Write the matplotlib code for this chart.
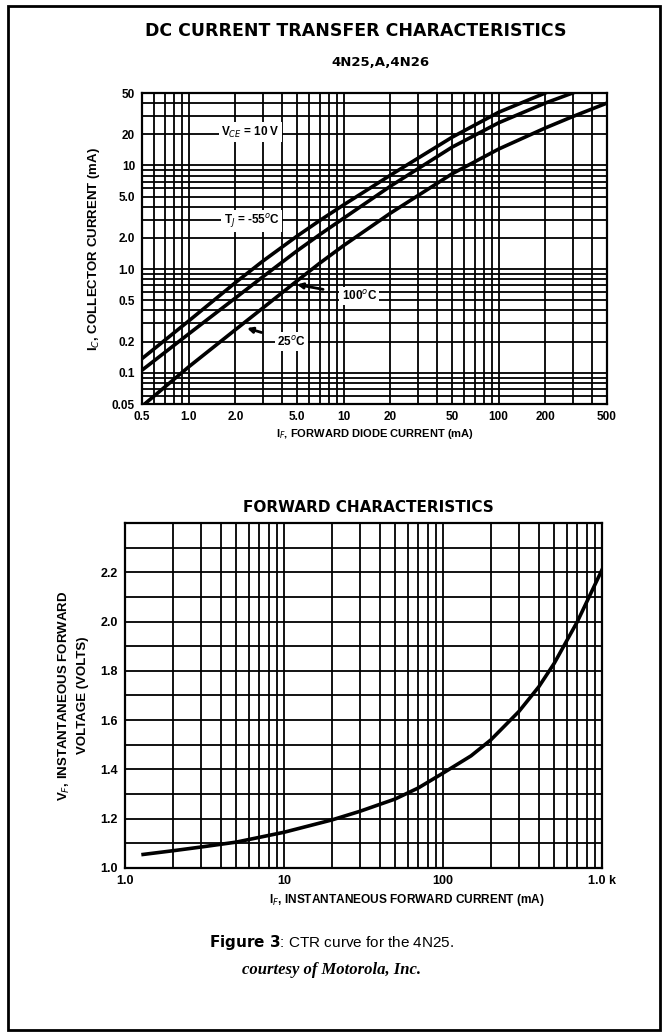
import matplotlib
matplotlib.use("Agg")
import matplotlib.pyplot as plt
from matplotlib.patches import Rectangle
from matplotlib.ticker import FixedLocator, FixedFormatter, LogLocator, NullFormatter, MultipleLocator
from matplotlib import font_manager as fm

# --- DC current transfer characteristics (IC vs IF) ---
if_m55 = [0.5, 1.0, 2.0, 3.0, 5.0, 7.0, 10, 20, 50, 100, 200, 230]
ic_m55 = [0.137, 0.316, 0.74, 1.19, 2.08, 2.94, 4.17, 8.05, 18.7, 32.6, 50, 55]
if_100 = [0.5, 1.0, 2.0, 3.0, 5.0, 7.0, 10, 20, 50, 100, 200, 300]
ic_100 = [0.106, 0.237, 0.526, 0.84, 1.5, 2.15, 3.1, 6.3, 15, 25.8, 40, 50]
if_25 = [0.52, 1.0, 2.0, 3.0, 5.0, 7.0, 10, 20, 50, 100, 200, 300, 500]
ic_25 = [0.05, 0.114, 0.26, 0.42, 0.77, 1.14, 1.69, 3.46, 8.3, 14.4, 23, 29.6, 40]

top_xticks = [0.5, 1, 2, 5, 10, 20, 50, 100, 200, 500]
top_xlabels = ["0.5", "1.0", "2.0", "5.0", "10", "20", "50", "100", "200", "500"]
top_yticks = [0.05, 0.1, 0.2, 0.5, 1, 2, 5, 10, 20, 50]
top_ylabels = ["0.05", "0.1", "0.2", "0.5", "1.0", "2.0", "5.0", "10", "20", "50"]

# --- forward characteristics (VF vs IF) ---
if_fwd = [1.3, 2, 3, 5, 10, 20, 30, 50, 70, 100, 150, 200, 300, 400, 500, 700, 1000]
vf_fwd = [1.055, 1.07, 1.085, 1.105, 1.145, 1.195, 1.23, 1.28, 1.325, 1.385, 1.455, 1.52, 1.635, 1.735, 1.83, 2.0, 2.21]

bot_xticks = [1, 10, 100, 1000]
bot_xlabels = ["1.0", "10", "100", "1.0 k"]
bot_yticks = [1.0, 1.2, 1.4, 1.6, 1.8, 2.0, 2.2]
bot_ylabels = ["1.0", "1.2", "1.4", "1.6", "1.8", "2.0", "2.2"]

names = {f.name for f in fm.fontManager.ttflist}
NARROW = "Liberation Sans Narrow" if "Liberation Sans Narrow" in names else "Liberation Sans"

W, H = 664, 1034
fig = plt.figure(figsize=(W / 100, H / 100), dpi=100)

def box(l, t, r, b):
    return [l / W, 1 - b / H, (r - l) / W, (b - t) / H]

# outer frame
fig.patches.append(Rectangle((8 / W, 1 - 1030 / H), 652 / W, 1024 / H, transform=fig.transFigure,
                             fill=False, ec="black", lw=2))

fig.text(356 / W, 1 - 31 / H, "DC CURRENT TRANSFER CHARACTERISTICS", ha="center", va="center",
         fontsize=12.5, fontweight="bold", family="DejaVu Sans")
fig.text(380 / W, 1 - 62 / H, "4N25,A,4N26", ha="center", va="center",
         fontsize=9.5, fontweight="bold", family="DejaVu Sans")

gkw = dict(color="black", lw=1.3)

ax1 = fig.add_axes(box(142, 93, 607, 404))
ax1.set_xscale("log")
ax1.set_yscale("log")
for xs, ys in ((if_m55, ic_m55), (if_100, ic_100), (if_25, ic_25)):
    ax1.plot(xs, ys, color="black", lw=2.6, solid_joinstyle="round")
ax1.set_xlim(0.5, 500)
ax1.set_ylim(0.05, 50)
ax1.xaxis.set_major_locator(FixedLocator(top_xticks))
ax1.xaxis.set_major_formatter(FixedFormatter(top_xlabels))
ax1.yaxis.set_major_locator(FixedLocator(top_yticks))
ax1.yaxis.set_major_formatter(FixedFormatter(top_ylabels))
for a in (ax1.xaxis, ax1.yaxis):
    a.set_minor_locator(LogLocator(base=10, subs=range(2, 10), numticks=20))
    a.set_minor_formatter(NullFormatter())
ax1.grid(which="both", **gkw)
ax1.tick_params(which="both", length=0, labelsize=8.5, pad=5)
for lab in ax1.get_xticklabels() + ax1.get_yticklabels():
    lab.set_family(NARROW)
    lab.set_fontweight("bold")
for s in ax1.spines.values():
    s.set_linewidth(1.6)
ax1.set_xlabel("I$_F$, FORWARD DIODE CURRENT (mA)", fontsize=8, fontweight="bold", family=NARROW, labelpad=3)
ax1.set_ylabel("I$_C$, COLLECTOR CURRENT (mA)", fontsize=9.5, fontweight="bold", family=NARROW, labelpad=7)

tb = dict(fc="white", ec="none", pad=1.5)
tkw = dict(fontsize=8.5, fontweight="bold", family=NARROW, ha="center", va="center", bbox=tb)
ax1.text(2.5, 21, "V$_{CE}$ = 10 V", **tkw)
ax1.text(2.55, 2.9, "T$_J$ = -55$^o$C", **tkw)
ax1.annotate("100$^o$C", xy=(5.0, 0.71), xytext=(12.6, 0.55), textcoords="data",
             arrowprops=dict(arrowstyle="-|>", color="black", lw=2, shrinkA=12, shrinkB=0, mutation_scale=8),
             **tkw)
ax1.annotate("25$^o$C", xy=(2.38, 0.27), xytext=(4.6, 0.2), textcoords="data",
             arrowprops=dict(arrowstyle="-|>", color="black", lw=2, shrinkA=10, shrinkB=0, mutation_scale=8),
             **tkw)

fig.text(368 / W, 1 - 508 / H, "FORWARD CHARACTERISTICS", ha="center", va="center",
         fontsize=11, fontweight="bold", family="DejaVu Sans")

ax2 = fig.add_axes(box(125, 523, 602, 868))
ax2.set_xscale("log")
ax2.plot(if_fwd, vf_fwd, color="black", lw=2.6, solid_joinstyle="round")
ax2.set_xlim(1, 1000)
ax2.set_ylim(1.0, 2.4)
ax2.xaxis.set_major_locator(FixedLocator(bot_xticks))
ax2.xaxis.set_major_formatter(FixedFormatter(bot_xlabels))
ax2.xaxis.set_minor_locator(LogLocator(base=10, subs=range(2, 10), numticks=20))
ax2.xaxis.set_minor_formatter(NullFormatter())
ax2.yaxis.set_major_locator(FixedLocator(bot_yticks))
ax2.yaxis.set_major_formatter(FixedFormatter(bot_ylabels))
ax2.yaxis.set_minor_locator(MultipleLocator(0.1))
ax2.grid(which="both", **gkw)
ax2.tick_params(which="both", length=0, labelsize=9, pad=5)
for lab in ax2.get_xticklabels() + ax2.get_yticklabels():
    lab.set_family(NARROW)
    lab.set_fontweight("bold")
for s in ax2.spines.values():
    s.set_linewidth(1.6)
ax2.set_xlabel("I$_F$, INSTANTANEOUS FORWARD CURRENT (mA)", fontsize=8.6, fontweight="bold", family=NARROW)
ax2.xaxis.set_label_coords(0.59, -0.07)
ax2.set_ylabel("V$_F$, INSTANTANEOUS FORWARD\nVOLTAGE (VOLTS)", fontsize=9.5, fontweight="bold", family=NARROW,
               labelpad=8, linespacing=1.6)

fig.text(332 / W, 1 - 942 / H, "$\\bf{Figure\\ 3}$: CTR curve for the 4N25.", ha="center", va="center",
         fontsize=11, family=NARROW)
fig.text(332 / W, 1 - 970 / H, "courtesy of Motorola, Inc.", ha="center", va="center",
         fontsize=12, style="italic", fontweight="bold", family="Liberation Serif")

fig.savefig("out.png", dpi=100)
